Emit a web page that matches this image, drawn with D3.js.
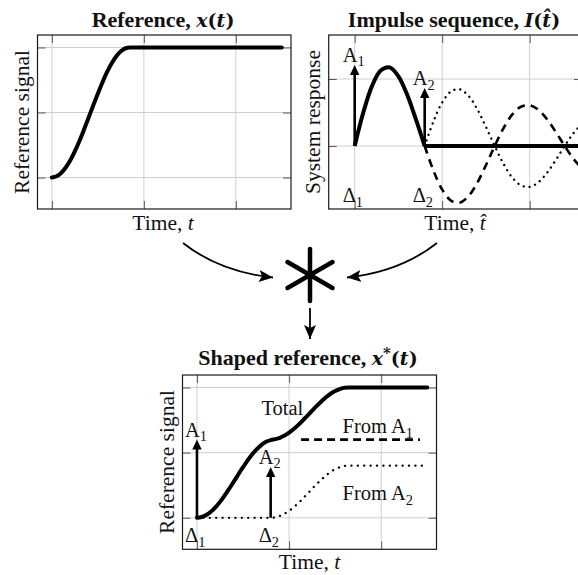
<!DOCTYPE html>
<html><head><meta charset="utf-8">
<script src="https://cdn.jsdelivr.net/npm/d3@7"></script>
<style>
body{margin:0;background:#fff}
svg{display:block}
text{font-family:"Liberation Serif","Times New Roman",serif;fill:#111}
</style>
</head><body>
<svg id="c" width="578" height="575"></svg>
<script>
// ---------------- data ----------------
// Panel 1: reference signal x(t)
const refT = [0,0.05,0.1,0.15,0.2,0.25,0.3,0.35,0.4,0.45,0.5,0.55,0.6,0.65,0.7,0.75,0.8,0.85,2.5];
const refY = [0,0.01,0.035,0.077,0.133,0.203,0.283,0.371,0.463,0.556,0.647,0.733,0.812,0.879,0.933,0.971,0.994,1.0,1.0];

// Panel 2: impulse sequence responses
const humpT = [0,0.1,0.2,0.3,0.4,0.5,0.6,0.7,0.8];
const humpY = [0,0.508,0.901,1.130,1.174,1.041,0.765,0.397,0];
const restT = [0.8,2.6];
const restY = [0,0];
const oscT  = [0.8,0.9,1.0,1.1,1.2,1.3,1.4,1.5,1.6,1.7,1.8,1.9,2.0,2.1,2.2,2.3,2.4,2.5,2.6];
const fromA1Resp = [0,-0.366,-0.649,-0.814,-0.846,-0.750,-0.551,-0.286,0,0.264,0.468,0.586,0.609,0.540,0.397,0.206,0,-0.190,-0.337];
const fromA2Resp = [0,0.366,0.649,0.814,0.846,0.750,0.551,0.286,0,-0.264,-0.468,-0.586,-0.609,-0.540,-0.397,-0.206,0,0.190,0.337];
const impulseT = [0,0.8];
const impulseA = [1.21,0.866];
const impulseNames = ["1","2"];

// Panel 3: shaped reference
const shT = [0,0.05,0.1,0.15,0.2,0.25,0.3,0.35,0.4,0.45,0.5,0.55,0.6,0.65,0.7,0.75,0.8,0.85,0.9,0.95,1.0,1.05,1.1,1.15,1.2,1.25,1.3,1.35,1.4,1.45,1.5,1.55,1.6,1.65,2.5];
const totalY = [0,0.006,0.021,0.046,0.080,0.122,0.170,0.223,0.278,0.334,0.388,0.440,0.487,0.527,0.560,0.583,0.596,0.604,0.614,0.631,0.653,0.681,0.713,0.748,0.785,0.822,0.859,0.893,0.925,0.952,0.973,0.988,0.998,1.0,1.0];
const a2T = [0,0.8,0.85,0.9,0.95,1.0,1.05,1.1,1.15,1.2,1.25,1.3,1.35,1.4,1.45,1.5,1.55,1.6,1.65,2.45];
const a2Y = [0,0,0.004,0.014,0.031,0.053,0.081,0.113,0.148,0.185,0.222,0.259,0.293,0.325,0.352,0.373,0.388,0.398,0.4,0.4];
const a1T = [1.13,2.42];
const a1Y = [0.6,0.6];
const shapedImpT = [0,0.8];
const shapedImpA = [0.6,0.39];

// axes / ticks
const gridTicksX = [0,1,2];
const gridTicksY13 = [0,0.5,1];
const gridTicksY2 = [0,1];

// ---------------- drawing ----------------
const svg = d3.select("#c");
const FS = 21.5;

function makePanel(id, box, xDom, yDom, xt, yt){
  const x = d3.scaleLinear().domain(xDom).range([box.x0, box.x1]);
  const y = d3.scaleLinear().domain(yDom).range([box.y1, box.y0]);
  const g = svg.append("g");
  g.append("clipPath").attr("id", id).append("rect")
    .attr("x", box.x0).attr("y", box.y0).attr("width", box.x1-box.x0).attr("height", box.y1-box.y0);
  const grid = g.append("g");
  grid.selectAll(".gx").data(xt).join("line")
    .attr("x1", d=>x(d)).attr("x2", d=>x(d)).attr("y1", box.y0).attr("y2", box.y1)
    .attr("stroke", "#cfcfcf").attr("stroke-width", 1);
  grid.selectAll(".gy").data(yt).join("line")
    .attr("y1", d=>y(d)).attr("y2", d=>y(d)).attr("x1", box.x0).attr("x2", box.x1)
    .attr("stroke", "#cfcfcf").attr("stroke-width", 1);
  const tl = 8;
  const mk = (axis, tr) => {
    const a = g.append("g").attr("transform", tr).call(axis.tickSize(-tl).tickFormat(""));
    a.select(".domain").remove();
    a.selectAll("line").attr("stroke", "#5a5a5a").attr("stroke-width", 1);
  };
  mk(d3.axisBottom(x).tickValues(xt), `translate(0,${box.y1})`);
  mk(d3.axisTop(x).tickValues(xt), `translate(0,${box.y0})`);
  mk(d3.axisLeft(y).tickValues(yt), `translate(${box.x0},0)`);
  mk(d3.axisRight(y).tickValues(yt), `translate(${box.x1},0)`);
  const plot = g.append("g").attr("clip-path", `url(#${id})`);
  g.append("rect").attr("x", box.x0).attr("y", box.y0).attr("width", box.x1-box.x0).attr("height", box.y1-box.y0)
    .attr("fill", "none").attr("stroke", "#1a1a1a").attr("stroke-width", 1.2);
  return {x, y, plot, g};
}

function line(p, T, Y, curve){
  return d3.line().x((d,i)=>p.x(T[i])).y((d,i)=>p.y(Y[i])).curve(curve)(T);
}

function subText(parent, x, y, main, sub, size){
  const t = parent.append("text").attr("x", x).attr("y", y).attr("font-size", size);
  t.append("tspan").text(main);
  t.append("tspan").attr("font-size", size*0.7).attr("dy", size*0.22).text(sub);
  return t;
}

function impulse(p, t, a, name){
  const xx = p.x(t), y0 = p.y(0), yt = p.y(a);
  const hl = 10, hw = 4.7;
  p.g.append("line").attr("x1", xx).attr("x2", xx).attr("y1", y0).attr("y2", yt+hl-1)
    .attr("stroke", "#000").attr("stroke-width", 2.6);
  p.g.append("path").attr("d", `M${xx},${yt} L${xx-hw},${yt+hl} L${xx+hw},${yt+hl} Z`).attr("fill", "#000");
  subText(p.g, xx-12, yt-3, "A", name, 20.5);
}

function deltaLabel(p, t, name){
  subText(p.g, p.x(t)-12, p.y.range()[0]-7, "\u0394", name, 20.5);
}

// ---- Panel 1
const p1 = makePanel("cp1", {x0:37.5, x1:291, y0:35, y1:209}, [-0.157,2.6], [-0.242,1.096], gridTicksX, gridTicksY13);
p1.plot.append("path").attr("d", line(p1, refT, refY, d3.curveMonotoneX))
  .attr("fill","none").attr("stroke","#000").attr("stroke-width",4).attr("stroke-linecap","round");

// ---- Panel 2
const p2 = makePanel("cp2", {x0:328.7, x1:582, y0:35, y1:209}, [-0.297,2.598], [-0.94,1.657], gridTicksX, gridTicksY2);
p2.plot.append("path").attr("d", line(p2, oscT, fromA2Resp, d3.curveCatmullRom))
  .attr("fill","none").attr("stroke","#000").attr("stroke-width",2.3)
  .attr("stroke-dasharray","0.1,5.8").attr("stroke-linecap","round");
p2.plot.append("path").attr("d", line(p2, oscT, fromA1Resp, d3.curveCatmullRom))
  .attr("fill","none").attr("stroke","#000").attr("stroke-width",2.6)
  .attr("stroke-dasharray","8,6");
p2.plot.append("path").attr("d", line(p2, humpT, humpY, d3.curveCatmullRom))
  .attr("fill","none").attr("stroke","#000").attr("stroke-width",4).attr("stroke-linejoin","round");
p2.plot.append("path").attr("d", line(p2, restT, restY, d3.curveLinear))
  .attr("fill","none").attr("stroke","#000").attr("stroke-width",4);
impulseT.forEach((t,i)=>{ impulse(p2, t, impulseA[i], impulseNames[i]); deltaLabel(p2, t, impulseNames[i]); });

// ---- Panel 3
const p3 = makePanel("cp3", {x0:182.5, x1:436.5, y0:375, y1:549.3}, [-0.157,2.6], [-0.242,1.096], gridTicksX, gridTicksY13);
p3.plot.append("path").attr("d", line(p3, a2T, a2Y, d3.curveMonotoneX))
  .attr("fill","none").attr("stroke","#000").attr("stroke-width",2.3)
  .attr("stroke-dasharray","0.1,6.3").attr("stroke-linecap","round");
p3.plot.append("path").attr("d", line(p3, a1T, a1Y, d3.curveLinear))
  .attr("fill","none").attr("stroke","#000").attr("stroke-width",2.6)
  .attr("stroke-dasharray","8,5");
p3.plot.append("path").attr("d", line(p3, shT, totalY, d3.curveMonotoneX))
  .attr("fill","none").attr("stroke","#000").attr("stroke-width",4).attr("stroke-linecap","round");
shapedImpT.forEach((t,i)=>{ impulse(p3, t, shapedImpA[i], impulseNames[i]); deltaLabel(p3, t, impulseNames[i]); });
p3.g.append("text").attr("x", p3.x(0.70)).attr("y", p3.y(0.79)).attr("font-size",20.5).text("Total");
subText(p3.g, p3.x(1.58), p3.y(0.65), "From A", "1", 20.5);
subText(p3.g, p3.x(1.58), p3.y(0.134), "From A", "2", 20.5);

// ---- titles (math parts in a wider serif, like the TeX bold math italic)
const MATH = "'DejaVu Serif', serif";
function title(cx, cy, parts){
  const t = svg.append("text").attr("x", cx).attr("y", cy).attr("text-anchor","middle")
    .attr("font-weight","bold").attr("font-size",22);
  parts.forEach(p=>{
    const s = t.append("tspan").text(p.t);
    if(p.m) s.attr("font-family", MATH).attr("font-size", 19);
    if(p.i) s.attr("font-style","italic");
    if(p.sup) s.attr("font-size",15).attr("dy",-7);
    if(p.down) s.attr("dy",7);
  });
}
title(163, 27, [{t:"Reference, "},{t:"x",i:1,m:1},{t:"(",m:1},{t:"t",i:1,m:1},{t:")",m:1}]);
title(454, 27, [{t:"Impulse sequence, "},{t:"I",i:1,m:1},{t:"(",m:1},{t:"t\u0302",i:1,m:1},{t:")",m:1}]);
title(308, 365, [{t:"Shaped reference, "},{t:"x",i:1,m:1},{t:"*",sup:1,m:1},{t:"(",down:1,m:1},{t:"t",i:1,m:1},{t:")",m:1}]);

// ---- axis labels
function xlabel(cx, cy, tv){
  const t = svg.append("text").attr("x",cx).attr("y",cy).attr("text-anchor","middle").attr("font-size",FS);
  t.append("tspan").text("Time, ");
  t.append("tspan").attr("font-style","italic").text(tv);
}
xlabel(163, 230, "t");
xlabel(455, 230, "t\u0302");
xlabel(309.5, 569, "t");
function ylabel(bx, cy, s){
  svg.append("text").attr("transform",`translate(${bx},${cy}) rotate(-90)`).attr("text-anchor","middle")
    .attr("font-size",FS).text(s);
}
ylabel(29, 122, "Reference signal");
ylabel(320, 122, "System response");
ylabel(174, 462, "Reference signal");

// ---- convolution diagram
const defs = svg.append("defs");
defs.append("marker").attr("id","ah").attr("markerUnits","userSpaceOnUse")
  .attr("markerWidth",16).attr("markerHeight",14).attr("refX",14).attr("refY",7).attr("orient","auto")
  .append("path").attr("d","M14,7 L0,1 L3,7 L0,13 Z").attr("fill","#000");
svg.append("path").attr("d","M183,243 Q220,272 273,277.5").attr("fill","none").attr("stroke","#000")
  .attr("stroke-width",1.8).attr("marker-end","url(#ah)");
svg.append("path").attr("d","M437,243 Q400,272 347,277.5").attr("fill","none").attr("stroke","#000")
  .attr("stroke-width",1.8).attr("marker-end","url(#ah)");
svg.append("path").attr("d","M310,308 L310,339").attr("fill","none").attr("stroke","#000")
  .attr("stroke-width",1.8).attr("marker-end","url(#ah)");
const ast = svg.append("g").attr("transform","translate(310,275)");
[90,30,-30].forEach(a=>{
  const r = a*Math.PI/180, L = 26;
  ast.append("line").attr("x1",-L*Math.cos(r)).attr("y1",-L*Math.sin(r)).attr("x2",L*Math.cos(r)).attr("y2",L*Math.sin(r))
    .attr("stroke","#000").attr("stroke-width",4.5).attr("stroke-linecap","round");
});
</script>
</body></html>
